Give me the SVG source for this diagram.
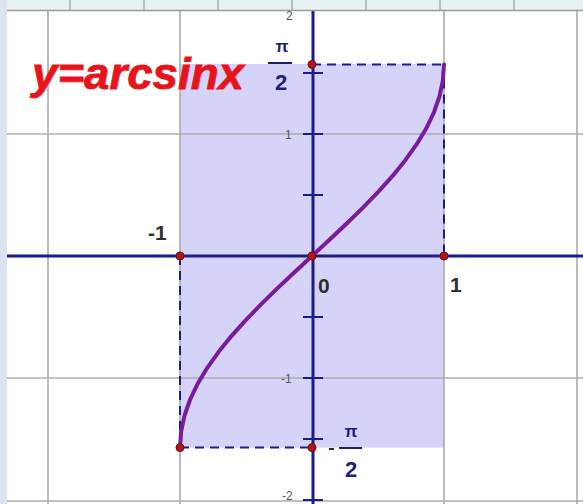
<svg xmlns="http://www.w3.org/2000/svg" width="583" height="504" viewBox="0 0 583 504">
<style>
.grid{stroke:#ababab;stroke-width:1.6;fill:none}
.axis{stroke:#1c1c8c;stroke-width:3;fill:none}
.tick{stroke:#1c1c8c;stroke-width:2}
.dash{stroke:#1c1c8c;stroke-width:2;stroke-dasharray:9 6;fill:none}
.dot{fill:#b3161b;stroke:#6a0e0e;stroke-width:1}
.big{font-family:"Liberation Sans",Arial,sans-serif;font-weight:bold;font-size:21px;fill:#2e2e2e}
.small{font-family:"Liberation Sans",Arial,sans-serif;font-size:12px;fill:#555}
.pi{font-family:"Liberation Sans",Arial,sans-serif;font-weight:bold;fill:#1f1f78;text-anchor:middle}
</style>
<rect x="0" y="0" width="583" height="504" fill="#ffffff"/>
<g id="shade"><rect x="180" y="64" width="264" height="383.6" fill="#cfcbf7" fill-opacity="0.85"/></g>
<g id="grid">
<line class="grid" x1="48" y1="10" x2="48" y2="504"/>
<line class="grid" x1="180" y1="10" x2="180" y2="504"/>
<line class="grid" x1="444" y1="10" x2="444" y2="504"/>
<line class="grid" x1="577" y1="10" x2="577" y2="504"/>
<line class="grid" x1="7" y1="134" x2="583" y2="134"/>
<line class="grid" x1="7" y1="378" x2="583" y2="378"/>
<line class="grid" x1="7" y1="501" x2="583" y2="501"/>
</g>
<g id="small-labels">
<text class="small" x="286" y="20">2</text>
<text class="small" x="285" y="139">1</text>
<text class="small" x="281" y="383">-1</text>
<text class="small" x="282" y="500" font-size="11">-2</text>
</g>
<g id="connectors">
<line class="dash" x1="180" y1="256" x2="180" y2="447.6"/>
<line class="dash" x1="180" y1="447.6" x2="312" y2="447.6"/>
<line class="dash" x1="312" y1="64.4" x2="444" y2="64.4"/>
<line class="dash" x1="444" y1="64.4" x2="444" y2="256"/>
</g>
<g id="axes">
<line class="axis" x1="7" y1="256" x2="583" y2="256"/>
<line class="axis" x1="313" y1="10" x2="313" y2="504"/>
<line class="tick" x1="303" y1="73" x2="323" y2="73"/>
<line class="tick" x1="303" y1="134" x2="323" y2="134"/>
<line class="tick" x1="303" y1="195" x2="323" y2="195"/>
<line class="tick" x1="303" y1="317" x2="323" y2="317"/>
<line class="tick" x1="303" y1="378" x2="323" y2="378"/>
<line class="tick" x1="303" y1="439" x2="323" y2="439"/>
<line class="tick" x1="303" y1="500" x2="323" y2="500"/>
</g>
<g id="curve">
<polyline fill="none" stroke="#7a1a9c" stroke-width="4" stroke-linejoin="round" stroke-linecap="round" points="180,447.6 181.13,431.67 184.5,415.7 190.05,399.73 197.68,383.76 207.28,367.79 218.66,351.82 231.64,335.85 246,319.88 261.49,303.91 277.84,287.94 294.77,271.97 312,256 329.23,240.03 346.16,224.06 362.51,208.09 378,192.12 392.36,176.15 405.34,160.18 416.72,144.21 426.32,128.24 433.95,112.27 439.5,96.3 442.87,80.33 444,64.4"/>
</g>
<g id="points">
<circle class="dot" cx="180" cy="256" r="4"/>
<circle class="dot" cx="312" cy="256" r="4"/>
<circle class="dot" cx="444" cy="256" r="4"/>
<circle class="dot" cx="312" cy="64.4" r="4"/>
<circle class="dot" cx="180" cy="447.6" r="4"/>
<circle class="dot" cx="312" cy="447.6" r="4"/>
</g>
<g id="labels">
<text class="big" x="148" y="240">-1</text>
<text class="big" x="318" y="293" font-size="18">0</text>
<text class="big" x="450" y="292">1</text>
<text class="pi" x="282" y="52" font-size="17">π</text>
<line x1="268" y1="63" x2="292" y2="63" stroke="#1f1f78" stroke-width="2"/>
<text class="pi" x="281" y="90" font-size="22">2</text>
<line x1="329" y1="449" x2="334" y2="449" stroke="#1f1f78" stroke-width="2"/>
<text class="pi" x="351" y="437" font-size="17">π</text>
<line x1="339" y1="448" x2="362" y2="448" stroke="#1f1f78" stroke-width="2"/>
<text class="pi" x="351" y="477" font-size="22">2</text>
<text x="32" y="89" font-family="Liberation Sans,Arial,sans-serif" font-weight="bold" font-style="italic" font-size="45" fill="#e8141c" stroke="#e8141c" stroke-width="0.8" textLength="212" lengthAdjust="spacingAndGlyphs">y=arcsinx</text>
</g>
<g id="frame">
<rect x="0" y="0" width="583" height="10" fill="#e7f3f3"/>
<g stroke="#9fb0b0" stroke-width="1.5">
<line x1="70" y1="0" x2="70" y2="10"/><line x1="144" y1="0" x2="144" y2="10"/><line x1="218" y1="0" x2="218" y2="10"/><line x1="292" y1="0" x2="292" y2="10"/><line x1="366" y1="0" x2="366" y2="10"/><line x1="440" y1="0" x2="440" y2="10"/><line x1="514" y1="0" x2="514" y2="10"/>
</g>
<line x1="0" y1="10.5" x2="583" y2="10.5" stroke="#9a9a9a" stroke-width="1.5"/>
<rect x="0" y="0" width="7" height="504" fill="#dbe5f1"/>
</g>
</svg>
